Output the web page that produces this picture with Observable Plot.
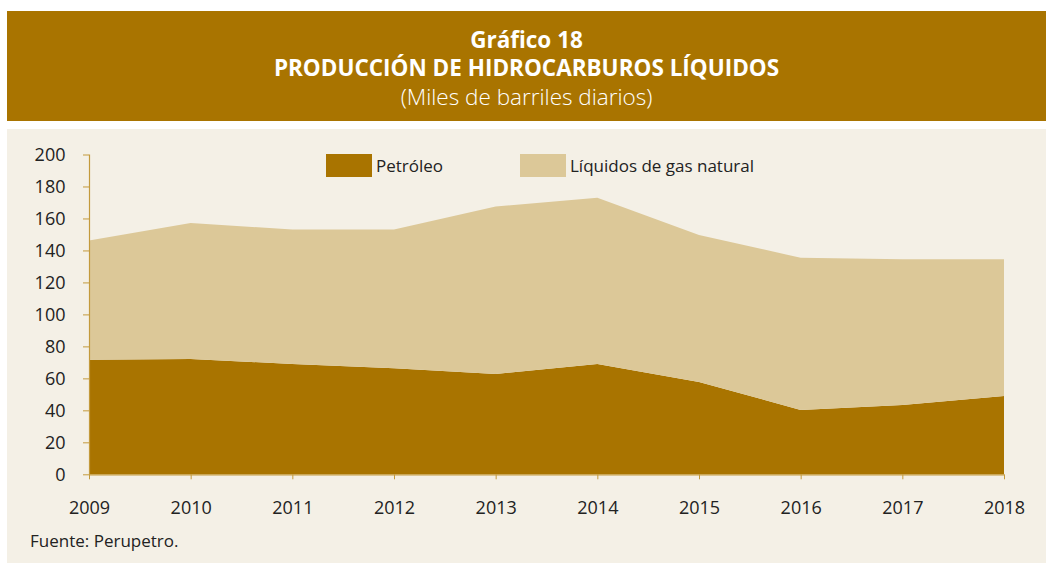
<!DOCTYPE html>
<html><head><meta charset="utf-8">
<script src="https://cdn.jsdelivr.net/npm/d3@7"></script>
<script src="https://cdn.jsdelivr.net/npm/@observablehq/plot@0.6"></script>
<style>
body{margin:0;background:#fff;font-family:"Open Sans","Noto Sans",sans-serif;}
#header{position:absolute;left:7px;top:11px;width:1039px;height:110px;background:#a97400;color:#fff;text-align:center;}
#header .t1{position:absolute;left:0;right:0;top:16px;font-weight:700;font-size:22.5px;line-height:26px;}
#header .t2{position:absolute;left:0;right:0;top:44px;font-weight:700;font-size:22.5px;line-height:26px;}
#header .t3{position:absolute;left:0;right:0;top:73px;font-weight:300;font-size:22.5px;line-height:26px;}
#panel{position:absolute;left:7px;top:129px;width:1039px;height:434px;background:#f4f0e6;}
#chart{position:absolute;left:0;top:0;}
#legend{position:absolute;top:25px;left:0;font-size:17px;color:#222;}
.item{position:absolute;white-space:nowrap;display:flex;align-items:center;}
.sw{display:inline-block;width:46px;height:23px;margin-right:4px;}
#source{position:absolute;left:23px;top:400px;font-size:17px;color:#222;}
</style></head>
<body>
<div id="header"><div class="t1">Gráfico 18</div><div class="t2">PRODUCCIÓN DE HIDROCARBUROS LÍQUIDOS</div><div class="t3">(Miles de barriles diarios)</div></div>
<div id="panel"><div id="chart"></div><div id="legend"></div><div id="source">Fuente: Perupetro.</div></div>
<script>
const years = [2009, 2010, 2011, 2012, 2013, 2014, 2015, 2016, 2017, 2018];
const petroleo = [71.7, 72.1, 69.0, 66.3, 62.8, 69.0, 57.8, 40.2, 43.4, 49.0];
const lgn = [74.5, 85.0, 84.1, 86.8, 104.7, 103.9, 91.9, 95.2, 91.1, 85.5];
const seriesNames = ["Petróleo", "Líquidos de gas natural"];
const colors = ["#a97400", "#dcc898"];
const yTicks = [0, 20, 40, 60, 80, 100, 120, 140, 160, 180, 200];

const data = [];
years.forEach((y, i) => data.push({year: y, serie: seriesNames[0], value: petroleo[i]}));
years.forEach((y, i) => data.push({year: y, serie: seriesNames[1], value: lgn[i]}));

const axisColor = "#c39a3c";
const chart = Plot.plot({
  width: 1039, height: 410,
  marginLeft: 82, marginRight: 42, marginTop: 25.5, marginBottom: 64.7,
  style: {background: "transparent", fontFamily: "'Open Sans','Noto Sans',sans-serif", fontSize: "18px", color: "#222"},
  x: {domain: [2009, 2018], label: null},
  y: {domain: [0, 200], label: null},
  color: {domain: seriesNames, range: colors},
  marks: [
    Plot.areaY(data, {x: "year", y: "value", fill: "serie", z: "serie", order: seriesNames}),
    Plot.ruleX([2009], {stroke: axisColor, strokeWidth: 1.2}),
    Plot.ruleY([0], {stroke: axisColor, strokeWidth: 1.2}),
    Plot.axisX({ticks: years, tickFormat: d3.format("d"), tickSize: 5, tickPadding: 21, stroke: axisColor, color: "#222", label: null}),
    Plot.axisY({ticks: yTicks, tickSize: 6, tickPadding: 18, stroke: axisColor, color: "#222", label: null})
  ]
});
document.getElementById("chart").appendChild(chart);

const legend = document.getElementById("legend");
const legendLeft = [319, 513];
seriesNames.forEach((n, i) => {
  const it = document.createElement("div");
  it.className = "item";
  it.style.left = legendLeft[i] + "px";
  it.innerHTML = `<span class="sw" style="background:${colors[i]}"></span><span>${n}</span>`;
  legend.appendChild(it);
});
</script>
</body></html>
